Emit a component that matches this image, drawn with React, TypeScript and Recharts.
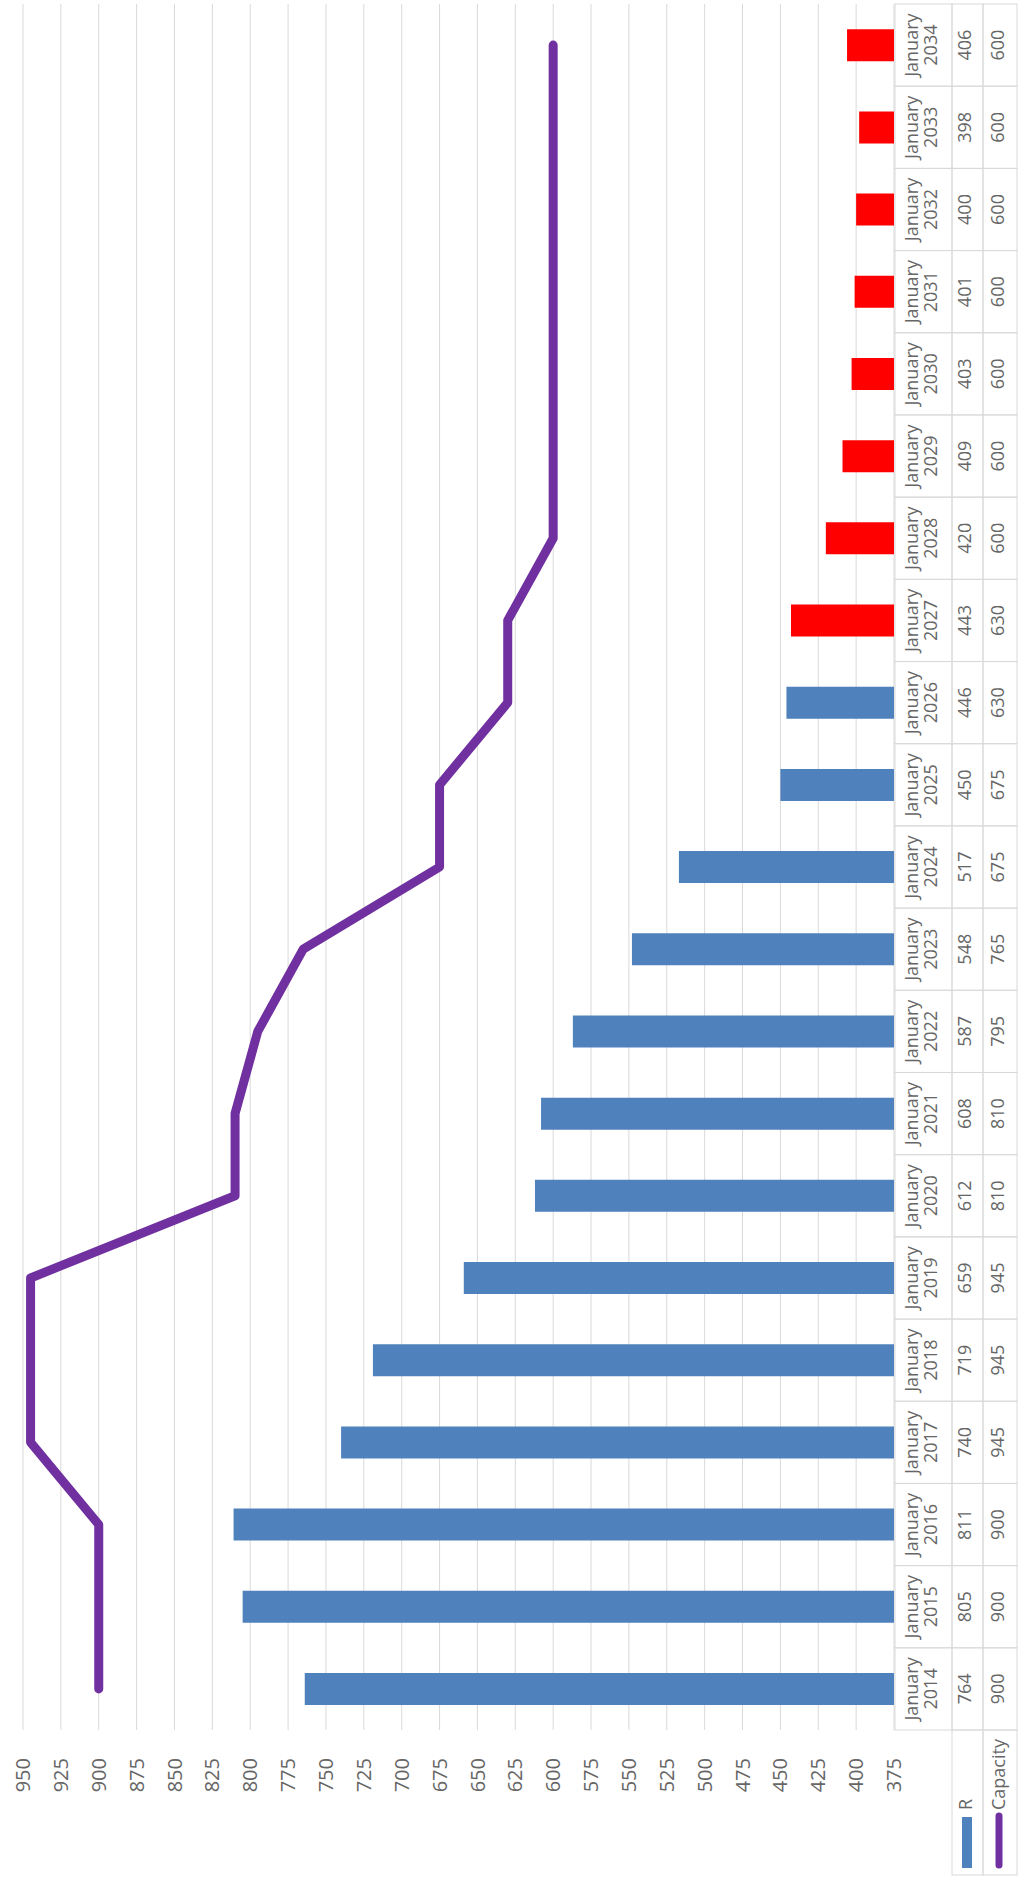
import { ComposedChart, Bar, Line, Cell, XAxis, YAxis, CartesianGrid } from "recharts";

const years = [
  2014, 2015, 2016, 2017, 2018, 2019, 2020, 2021, 2022, 2023, 2024,
  2025, 2026, 2027, 2028, 2029, 2030, 2031, 2032, 2033, 2034,
];
const rValues = [764, 805, 811, 740, 719, 659, 612, 608, 587, 548, 517, 450, 446, 443, 420, 409, 403, 401, 400, 398, 406];
const capacityValues = [900, 900, 900, 945, 945, 945, 810, 810, 795, 765, 675, 675, 630, 630, 600, 600, 600, 600, 600, 600, 600];
const yTicks = [375, 400, 425, 450, 475, 500, 525, 550, 575, 600, 625, 650, 675, 700, 725, 750, 775, 800, 825, 850, 875, 900, 925, 950];
const firstForecastYear = 2027;

const data = years.map((year, i) => ({ year, r: rValues[i], capacity: capacityValues[i] }));

// chart is drawn landscape, then turned a quarter counter-clockwise
const W = 1880;
const H = 1024;
const M = { top: 23, right: 4, bottom: 0, left: 0 };
const Y_AXIS_W = 150;
const CELL_W = (W - M.left - M.right - Y_AXIS_W) / years.length;

const BLUE = "#4F81BD";
const RED = "#FF0000";
const PURPLE = "#7030A0";
const BORDER = "#D9D9D9";
const TEXT = "#666666";
const FONT = "'Open Sans', sans-serif";

function TableTick(props: any) {
  const { x, y, payload } = props;
  const i = years.indexOf(payload.value);
  const left = x - CELL_W / 2;
  const top = y + 1;
  const row1 = top + 57;
  const row2 = row1 + 31;
  const bottom = row2 + 34;
  const txt = { fill: TEXT, fontSize: 18, fontFamily: FONT, textAnchor: "middle" as const };
  return (
    <g>
      <rect x={left} y={top} width={CELL_W} height={row1 - top} fill="none" stroke={BORDER} />
      <rect x={left} y={row1} width={CELL_W} height={row2 - row1} fill="none" stroke={BORDER} />
      <rect x={left} y={row2} width={CELL_W} height={bottom - row2} fill="none" stroke={BORDER} />
      <text x={x} y={top + 23} {...txt}>January</text>
      <text x={x} y={top + 42} {...txt}>{payload.value}</text>
      <text x={x} y={row1 + 19} {...txt}>{rValues[i]}</text>
      <text x={x} y={row2 + 21} {...txt}>{capacityValues[i]}</text>
      {i === 0 && (
        <g>
          <rect x={5} y={row1} width={left - 5} height={row2 - row1} fill="none" stroke={BORDER} />
          <rect x={5} y={row2} width={left - 5} height={bottom - row2} fill="none" stroke={BORDER} />
          <rect x={12} y={row1 + 10} width={51} height={10} fill={BLUE} />
          <line x1={15} x2={64} y1={row2 + 16} y2={row2 + 16} stroke={PURPLE} strokeWidth={7} strokeLinecap="round" />
          <text x={70} y={row1 + 20} {...txt} textAnchor="start">R</text>
          <text x={70} y={row2 + 22} {...txt} textAnchor="start">Capacity</text>
        </g>
      )}
    </g>
  );
}

export default function App() {
  return (
    <div style={{ position: "absolute", left: 0, top: 0, width: 1024, height: 1880, overflow: "hidden", background: "#fff" }}>
      <div
        style={{
          position: "absolute",
          left: 0,
          top: 0,
          width: W,
          height: H,
          transformOrigin: "0 0",
          transform: `translateY(${W}px) rotate(-90deg)`,
        }}
      >
        <ComposedChart width={W} height={H} data={data} margin={M}>
          <CartesianGrid horizontal vertical={false} stroke={BORDER} />
          <XAxis
            dataKey="year"
            interval={0}
            axisLine={false}
            tickLine={false}
            tickSize={0}
            tickMargin={0}
            height={H - M.top - 871}
            tick={<TableTick />}
          />
          <YAxis
            domain={[375, 950]}
            ticks={yTicks}
            width={Y_AXIS_W}
            axisLine={false}
            tickLine={false}
            tickSize={6}
            tickMargin={22}
            tick={{ fill: TEXT, fontSize: 20, fontFamily: FONT }}
          />
          <Bar dataKey="r" barSize={32} isAnimationActive={false}>
            {data.map((d, i) => (
              <Cell key={i} fill={d.year >= firstForecastYear ? RED : BLUE} />
            ))}
          </Bar>
          <Line
            dataKey="capacity"
            stroke={PURPLE}
            strokeWidth={9}
            strokeLinecap="round"
            strokeLinejoin="round"
            dot={false}
            activeDot={false}
            isAnimationActive={false}
          />
        </ComposedChart>
      </div>
    </div>
  );
}
